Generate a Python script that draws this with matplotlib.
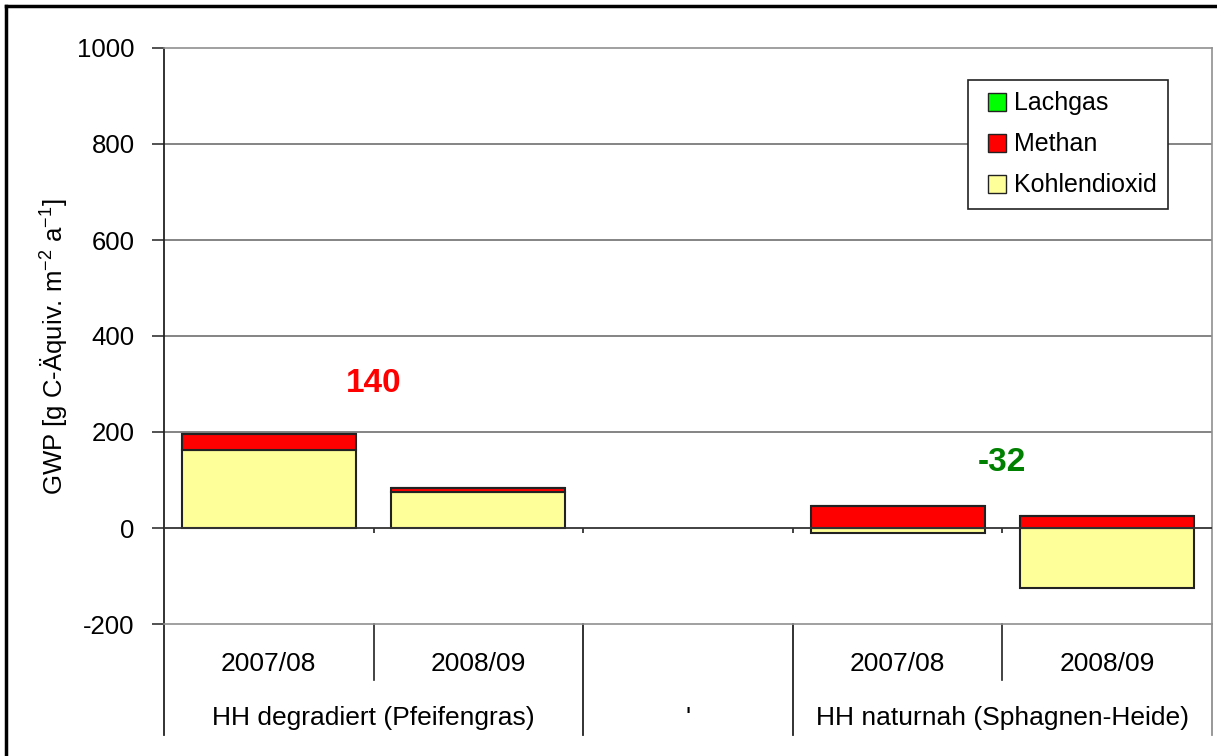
import numpy as np
import matplotlib.pyplot as plt
from matplotlib.lines import Line2D

plt.rcParams['font.family'] = ['Liberation Sans', 'DejaVu Sans']
plt.rcParams['axes.unicode_minus'] = False

# data
years = ['2007/08', '2008/09', '', '2007/08', '2008/09']
groups = ['HH degradiert (Pfeifengras)', "'", 'HH naturnah (Sphagnen-Heide)']
group_span = [(0, 1), (2, 2), (3, 4)]
co2 = [162, 76, np.nan, -10, -124]
ch4 = [34, 8, np.nan, 46, 24]
n2o = [0, 0, np.nan, 0, 0]
means = [140, -32]
mean_colors = ['#ff0000', '#008000']

W, H = 1217, 756
fig = plt.figure(figsize=(W / 100, H / 100), dpi=100)
ax = fig.add_axes([164 / W, 1 - 624 / H, (1212 - 164) / W, (624 - 48) / H])

x = np.arange(len(years))
co2 = np.array(co2, dtype=float)
ch4 = np.array(ch4, dtype=float)
n2o = np.array(n2o, dtype=float)
bw = 0.83
ec = '#222222'

# excel style stacking: positives on top of positives
pos_co2 = np.where(co2 > 0, co2, 0)
ax.bar(x, co2, bw, color='#ffff99', edgecolor=ec, linewidth=1.5, zorder=3)
ax.bar(x, ch4, bw, bottom=pos_co2, color='#ff0000', edgecolor=ec, linewidth=1.5, zorder=3)
ax.bar(x, n2o, bw, bottom=pos_co2 + ch4, color='#00ff00', edgecolor=ec, linewidth=1.5, zorder=3)

ax.set_xlim(-0.5, len(years) - 0.5)
ax.set_ylim(-200, 1000)
ax.set_yticks(np.arange(-200, 1001, 200))
ax.set_xticks([])
for v in [200, 400, 600, 800]:
    ax.axhline(v, color='#707070', lw=1.2, zorder=1)
ax.axhline(0, color='#333333', lw=1.3, zorder=4)
ax.vlines(x[:-1] + 0.5, -10, 0, color='#333333', lw=1.3, zorder=4)

ax.tick_params(axis='y', labelsize=18.5, length=9, width=1.2, pad=12, color='#333333')
for s in ['top', 'right', 'bottom']:
    ax.spines[s].set_color('#909090')
    ax.spines[s].set_linewidth(1.2)
ax.spines['left'].set_color('#222222')
ax.spines['left'].set_linewidth(1.3)

ax.set_ylabel(r'GWP [g C-Äquiv. m$^{\mathregular{-2}}$ a$^{\mathregular{-1}}$]', fontsize=18.5)
ax.yaxis.set_label_coords(-0.09, 0.481)

# mean labels
for xm, m, c in zip([0.5, 3.5], means, mean_colors):
    yv = 302 if m > 0 else 137
    ax.text(xm, yv, str(m), color=c, fontsize=24, fontweight='bold', ha='center', va='center')

# multi-level category labels
tr = ax.get_xaxis_transform()
y_short, y_long = -56 / 576, -111 / 576
for xi, lab in zip(x, years):
    ax.text(xi, -40 / 576, lab, transform=tr, ha='center', va='center', fontsize=19)
for (a, b), lab in zip(group_span, groups):
    ax.text((a + b) / 2, -94 / 576, lab, transform=tr, ha='center', va='center', fontsize=19)
inner = [0.5, 3.5]
outer = [-0.5, 1.5, 2.5, 4.5]
for xb in inner:
    ax.add_line(Line2D([xb, xb], [0, y_short], transform=tr, color='#222222', lw=1.2, clip_on=False))
for xb in outer:
    col = '#909090' if xb == 4.5 else '#222222'
    ax.add_line(Line2D([xb, xb], [0, y_long], transform=tr, color=col, lw=1.3, clip_on=False))

# legend
handles = [Line2D([], [], marker='s', markersize=12.5, linestyle='none', markerfacecolor=c,
                  markeredgecolor='#222222', markeredgewidth=1)
           for c in ['#00ff00', '#ff0000', '#ffff99']]
leg = fig.legend(handles, ['Lachgas', 'Methan', 'Kohlendioxid'], loc='upper left',
                 bbox_to_anchor=(968 / W, 1 - 80 / H), borderaxespad=0, fontsize=18,
                 handlelength=1.4, handletextpad=0.0,
                 labelspacing=0.68, fancybox=False, edgecolor='#222222', framealpha=1,
                 borderpad=0.45)
leg.get_frame().set_linewidth(1.2)

# outer chart border
fig.add_artist(Line2D([6 / W, 6 / W], [0, 1 - 6 / H], transform=fig.transFigure, color='black', lw=2.5))
fig.add_artist(Line2D([6 / W, 1], [1 - 6 / H, 1 - 6 / H], transform=fig.transFigure, color='black', lw=2.5))

fig.savefig('out.png', dpi=100, facecolor='white')
